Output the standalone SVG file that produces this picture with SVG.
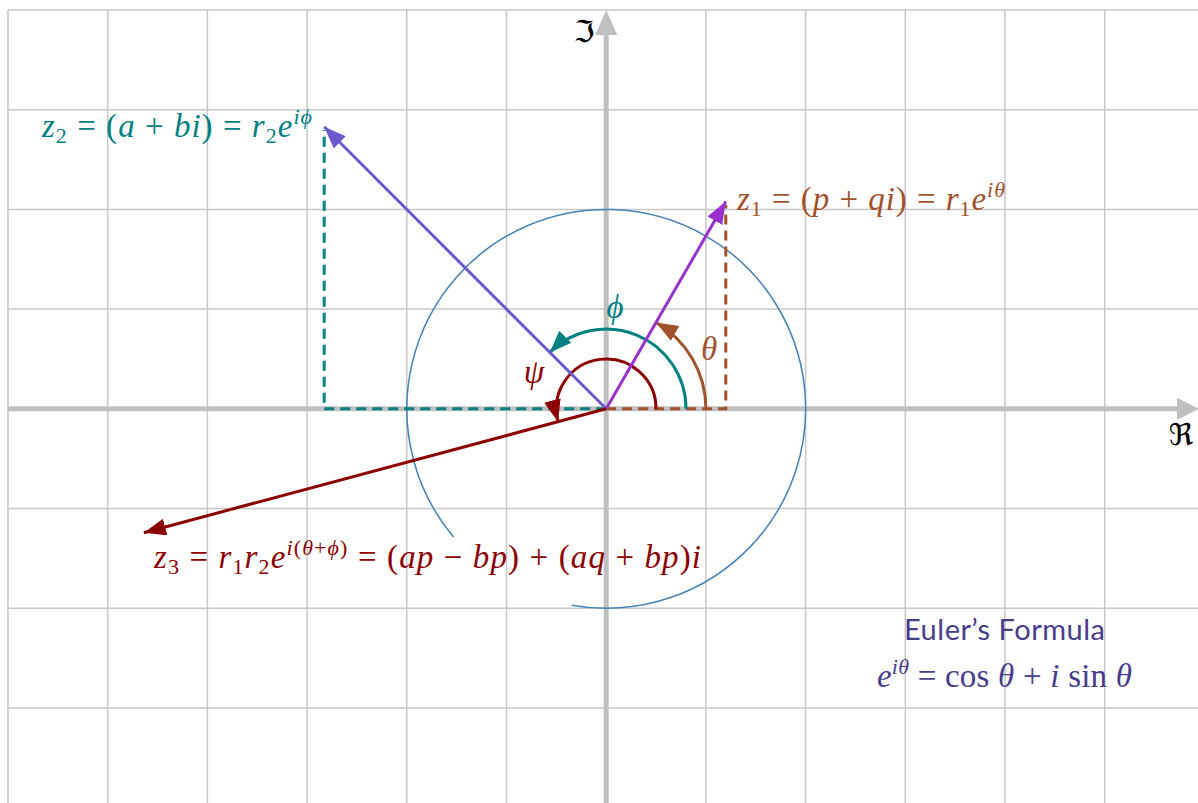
<svg xmlns="http://www.w3.org/2000/svg" width="1198" height="803" viewBox="0 0 1198 803">
<style>
.grid{stroke:#c8c8c8;stroke-width:1.5;fill:none}
.axis{stroke:#c0c0c0;stroke-width:5;fill:none}
.math{font-family:"Liberation Serif","DejaVu Serif",serif;font-size:33px}
.it{font-style:italic}
.sm{font-size:22px}
.frak{font-family:"DejaVu Serif","DejaVu Sans",serif;font-size:30px;fill:#000}
.sans{font-family:Lato,"Liberation Sans",sans-serif;font-size:29px}
.dash{stroke-width:3;stroke-dasharray:10 6;fill:none}
.vec{stroke-width:3;fill:none}
</style>
<defs>
<marker id="ahPurple" markerUnits="userSpaceOnUse" markerWidth="24" markerHeight="18" refX="22" refY="8.5" orient="auto"><path d="M0,0 L22,8.5 L0,17 z" fill="#9932CC"/></marker>
<marker id="ahSlate" markerUnits="userSpaceOnUse" markerWidth="24" markerHeight="18" refX="22" refY="8.5" orient="auto"><path d="M0,0 L22,8.5 L0,17 z" fill="#6A5ACD"/></marker>
<marker id="ahRed" markerUnits="userSpaceOnUse" markerWidth="24" markerHeight="18" refX="22" refY="8.5" orient="auto"><path d="M0,0 L22,8.5 L0,17 z" fill="#8B0000"/></marker>
<marker id="ahTeal" markerUnits="userSpaceOnUse" markerWidth="24" markerHeight="18" refX="22" refY="8.5" orient="auto"><path d="M0,0 L22,8.5 L0,17 z" fill="#008080"/></marker>
<marker id="ahSienna" markerUnits="userSpaceOnUse" markerWidth="24" markerHeight="18" refX="22" refY="8.5" orient="auto"><path d="M0,0 L22,8.5 L0,17 z" fill="#A0522D"/></marker>
</defs>
<rect width="1198" height="803" fill="#fff"/>
<g id="grid" class="grid">
<path d="M8,10 V803 M107.7,10 V803 M207.4,10 V803 M307.1,10 V803 M406.8,10 V803 M506.5,10 V803 M705.9,10 V803 M805.6,10 V803 M905.3,10 V803 M1005,10 V803 M1104.7,10 V803"/>
<path d="M8,10 H1198 M8,109.7 H1198 M8,209.4 H1198 M8,309.1 H1198 M8,508.5 H1198 M8,608.2 H1198 M8,707.9 H1198"/>
</g>
<g id="axes">
<path class="axis" d="M8,408.8 H1180 M606.2,803 V30"/>
<polygon points="1199,408.8 1177,397.8 1177,419.8" fill="#c0c0c0"/>
<polygon points="606.2,10 595.2,35 617.2,35" fill="#c0c0c0"/>
<text class="frak" x="584" y="42" text-anchor="middle">ℑ</text>
<text class="frak" x="1181" y="445" text-anchor="middle">ℜ</text>
</g>
<g id="unit-circle">
<path d="M571.6,605.2 A199.4,199.4 0 1 0 453.5,537" fill="none" stroke="#4682B4" stroke-width="1.5"/>
</g>
<g id="connectors">
<path class="dash" stroke="#A0522D" d="M606.2,408.8 H725.8 V205"/>
<path class="dash" stroke="#008080" d="M606.2,408.8 H324.2 V130"/>
<path class="vec" stroke="#A0522D" d="M705.9,408.8 A99.7,99.7 0 0 0 656.05,322.46" marker-end="url(#ahSienna)"/>
<path class="vec" stroke="#008080" d="M686,408.8 A79.76,79.76 0 0 0 549.8,352.4" marker-end="url(#ahTeal)"/>
<path class="vec" stroke="#8B0000" d="M656.05,408.8 A49.85,49.85 0 1 0 558.05,421.7" marker-end="url(#ahRed)"/>
<path class="vec" stroke="#9932CC" d="M606.2,408.8 L725.8,201.6" marker-end="url(#ahPurple)"/>
<path class="vec" stroke="#6A5ACD" d="M606.2,408.8 L324.2,126.8" marker-end="url(#ahSlate)"/>
<path class="vec" stroke="#8B0000" d="M606.2,408.8 L143.9,532.7" marker-end="url(#ahRed)"/>
</g>
<g id="angle-labels">
<text class="math it" x="615" y="318" text-anchor="middle" fill="#008080">ϕ</text>
<text class="math it" x="709" y="360" text-anchor="middle" fill="#A0522D">θ</text>
<text class="math it" x="534" y="383" text-anchor="middle" fill="#8B0000">ψ</text>
</g>
<g id="z2-label">
<text class="math" x="42" y="137" fill="#008080" textLength="270" lengthAdjust="spacing"><tspan class="it">z</tspan><tspan class="sm" dy="6">2</tspan><tspan dy="-6"> = (</tspan><tspan class="it">a</tspan> + <tspan class="it">bi</tspan>) = <tspan class="it">r</tspan><tspan class="sm" dy="6">2</tspan><tspan class="it" dy="-6">e</tspan><tspan class="it sm" dy="-13">iϕ</tspan></text>
</g>
<g id="z1-label">
<text class="math" x="737" y="210" fill="#A0522D" textLength="268" lengthAdjust="spacing"><tspan class="it">z</tspan><tspan class="sm" dy="6">1</tspan><tspan dy="-6"> = (</tspan><tspan class="it">p</tspan> + <tspan class="it">qi</tspan>) = <tspan class="it">r</tspan><tspan class="sm" dy="6">1</tspan><tspan class="it" dy="-6">e</tspan><tspan class="it sm" dy="-13">iθ</tspan></text>
</g>
<g id="z3-label">
<text class="math" x="154" y="568" fill="#8B0000" textLength="547" lengthAdjust="spacing"><tspan class="it">z</tspan><tspan class="sm" dy="6">3</tspan><tspan dy="-6"> = </tspan><tspan class="it">r</tspan><tspan class="sm" dy="6">1</tspan><tspan class="it" dy="-6">r</tspan><tspan class="sm" dy="6">2</tspan><tspan class="it" dy="-6">e</tspan><tspan class="sm" dy="-13"><tspan class="it">i</tspan>(<tspan class="it">θ</tspan>+<tspan class="it">ϕ</tspan>)</tspan><tspan dy="13"> = (</tspan><tspan class="it">ap</tspan> − <tspan class="it">bp</tspan>) + (<tspan class="it">aq</tspan> + <tspan class="it">bp</tspan>)<tspan class="it">i</tspan></text>
</g>
<g id="euler">
<text class="sans" x="904" y="640" fill="#483D8B" textLength="201" lengthAdjust="spacing">Euler’s Formula</text>
<text class="math" x="877" y="687" fill="#483D8B" textLength="255" lengthAdjust="spacing"><tspan class="it">e</tspan><tspan class="it sm" dy="-13">iθ</tspan><tspan dy="13"> = cos </tspan><tspan class="it">θ</tspan> + <tspan class="it">i</tspan> sin <tspan class="it">θ</tspan></text>
</g>
</svg>
